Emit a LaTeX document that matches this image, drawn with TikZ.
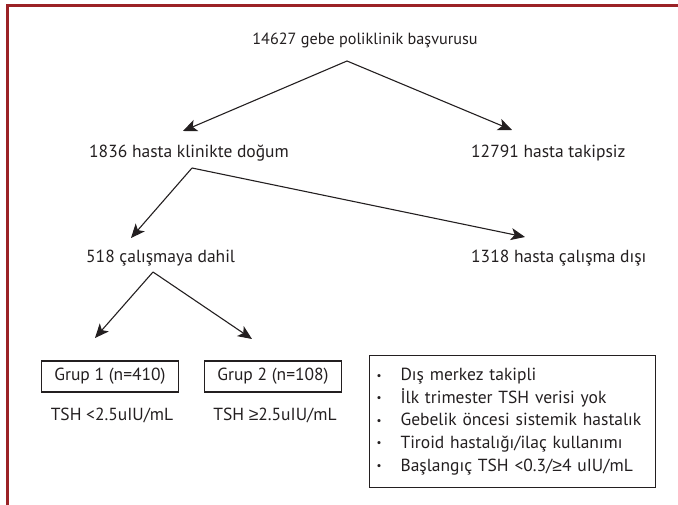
\documentclass[tikz,border=0pt]{standalone}
\usepackage{fontspec}
\setmainfont{PT Sans}
\newfontfamily\symfont{Liberation Sans}
\usetikzlibrary{arrows.meta}
\definecolor{framered}{RGB}{155,34,38}
\definecolor{inkgray}{RGB}{35,31,32}
\newcommand{\geqsym}{{\symfont ≥}}
\newcommand{\listdot}{\makebox[25pt][l]{\hspace{1pt}\raisebox{1.5pt}{\fontsize{11}{11}\selectfont •}}}

\begin{document}
\begin{tikzpicture}[x=1pt,y=-1pt,
    lbl/.style={font=\fontsize{17.5}{21}\selectfont, text=inkgray, inner sep=0pt},
    grupbox/.style={lbl, draw=inkgray, line width=1.1pt, minimum width=137pt, minimum height=31pt},
    arr/.style={inkgray, line width=1.1pt, -{Stealth[length=14pt,width=12pt,inset=3.5pt]}}]
  \useasboundingbox (0,0) rectangle (678,505);
  % frame
  \draw[framered, line width=2.8pt] (7.5,505) -- (7.5,5.4) -- (678,5.4);

  % flow texts
  \node[lbl, font=\fontsize{16.2}{19}\selectfont, anchor=base] (basvuru) at (365,45) {14627 gebe poliklinik başvurusu};
  \node[lbl, anchor=base west] (dogum) at (89,158) {1836 hasta klinikte doğum};
  \node[lbl, anchor=base west] (takipsiz) at (471,158) {12791 hasta takipsiz};
  \node[lbl, anchor=base west] (dahil) at (86,263) {518 çalışmaya dahil};
  \node[lbl, anchor=base west] (disi) at (471,263) {1318 hasta çalışma dışı};

  % groups
  \node[grupbox] (grup1) at (110,376.5) {Grup 1 (n=410)};
  \node[grupbox] (grup2) at (273,376.5) {Grup 2 (n=108)};
  \node[lbl, anchor=base] (tsh1) at (112,420) {TSH <2.5uIU/mL};
  \node[lbl, anchor=base] (tsh2) at (275,420) {TSH \geqsym2.5uIU/mL};

  % exclusion list
  \node[lbl, draw=inkgray, line width=1.1pt, anchor=north west, text width=274pt,
        inner xsep=6pt, minimum height=132pt, align=left,
        font=\fontsize{17.5}{22.6}\selectfont] (disliste) at (369,355)
    {\listdot Dış merkez takipli\\
     \listdot İlk trimester TSH verisi yok\\
     \listdot Gebelik öncesi sistemik hastalık\\
     \listdot Tiroid hastalığı/ilaç kullanımı\\
     \listdot Başlangıç TSH <0.3/\geqsym4 uIU/mL};

  % arrows
  \coordinate (f0) at (347,61);
  \coordinate (t1) at (183,131);
  \coordinate (t2) at (512,130);
  \coordinate (f1) at (192,168);
  \coordinate (t3) at (131,238);
  \coordinate (t4) at (525,237);
  \coordinate (f2) at (153,272);
  \coordinate (t5) at (95,338);
  \coordinate (t6) at (252,339);
  \draw[arr] (f0) -- (t1);
  \draw[arr] (f0) -- (t2);
  \draw[arr] (f1) -- (t3);
  \draw[arr] (f1) -- (t4);
  \draw[arr] (f2) -- (t5);
  \draw[arr] (f2) -- (t6);
\end{tikzpicture}
\end{document}
